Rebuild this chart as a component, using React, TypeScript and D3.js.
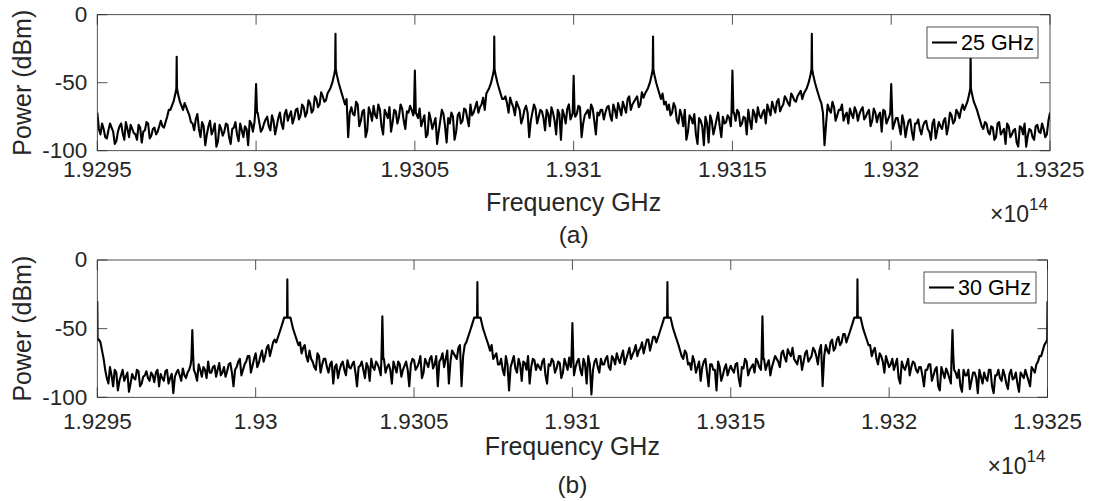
import React from "react";
import * as d3 from "d3";

// ---------- data ----------
// frequency axis (units of 1e14 Hz) and tick labels
const freqTicks = [1.9295, 1.93, 1.9305, 1.931, 1.9315, 1.932, 1.9325];
const freqTickLabels = ["1.9295", "1.93", "1.9305", "1.931", "1.9315", "1.932", "1.9325"];
const powerTicks = [0, -50, -100];
const powerTickLabels = ["0", "-50", "-100"];
const freqStart = 1.9295; // 1e14 Hz
const ghzPerUnit = 1e5; // GHz per 1e14 Hz
const noiseStepGHz = 1;

// Panel (a): 25 GHz — noise floor samples at whole GHz from 1.9295e14 Hz
const noiseA = [
  -72, -88, -84, -91, -80, -86, -93, -82, -87, -79, -90, -84, -88, -81, -94, -85, -80, -89, -83, -86,
  -78, -83, -75, -72, -66, -60, -58, -62, -68, -74, -80, -77, -84, -79, -96, -82, -88, -80, -93, -84,
  -86, -81, -95, -83, -88, -80, -90, -84, -78, -86, -75, -79, -84, -77, -82, -74, -88, -76, -80, -73,
  -78, -71, -76, -69, -74, -68, -72, -65, -70, -62, -66, -60, -63, -58, -55, -50, -48, -60, -66, -90,
  -68, -74, -66, -78, -70, -85, -72, -67, -76, -70, -88, -73, -68, -79, -71, -75, -69, -84, -72, -70,
  -70, -76, -82, -74, -88, -77, -80, -95, -78, -73, -94, -80, -75, -86, -72, -78, -70, -82, -74, -68,
  -72, -66, -70, -63, -60, -58, -55, -50, -62, -65, -61, -68, -64, -70, -76, -67, -90, -72, -69, -75,
  -71, -85, -73, -68, -78, -70, -92, -74, -69, -77, -70, -73, -68, -80, -72, -76, -69, -88, -74, -70,
  -72, -67, -78, -70, -65, -74, -68, -62, -70, -64, -60, -66, -61, -58, -56, -50, -52, -60, -58, -64,
  -66, -72, -68, -80, -74, -70, -86, -76, -73, -95, -78, -96, -80, -74, -88, -77, -82, -75, -79, -76,
  -74, -78, -72, -80, -76, -70, -84, -73, -68, -76, -70, -66, -74, -68, -64, -71, -66, -62, -67, -60,
  -64, -58, -62, -55, -50, -48, -56, -60, -65, -96, -66, -72, -68, -74, -70, -78, -72, -69, -76, -71,
  -73, -68, -75, -70, -78, -72, -74, -86, -71, -77, -73, -80, -76, -88, -79, -83, -77, -92, -80, -84,
  -82, -78, -86, -80, -91, -79, -84, -76, -82, -74, -78, -72, -70, -66, -62, -60, -64, -70, -78, -84,
  -80, -88, -83, -90, -79, -86, -95, -82, -88, -84, -97, -83, -80, -89, -85, -92, -81, -87, -84, -88,
  -72,
];
// noise floor samples at half GHz (0.5, 1.5, ...)
const noiseHalfA = [
  -84, -80, -90, -85, -83, -95, -86, -80, -92, -84, -81, -87, -92, -83, -86, -79, -91, -84, -88, -82,
  -82, -79, -70, -68, -63, -58, -60, -65, -71, -79, -85, -73, -90, -82, -88, -78, -85, -97, -81, -89,
  -80, -90, -84, -79, -93, -85, -82, -96, -80, -79, -72, -86, -80, -75, -85, -78, -82, -72, -84, -70,
  -74, -80, -70, -77, -66, -75, -63, -72, -60, -68, -57, -64, -55, -52, -47, -45, -52, -70, -62, -72,
  -73, -64, -82, -71, -90, -68, -78, -74, -66, -82, -70, -76, -86, -70, -80, -66, -78, -71, -67, -74,
  -73, -69, -78, -90, -72, -84, -76, -86, -70, -82, -76, -72, -92, -74, -80, -69, -76, -66, -72, -64,
  -68, -61, -66, -57, -62, -52, -58, -66, -60, -72, -65, -74, -67, -80, -70, -72, -78, -66, -80, -70,
  -76, -70, -82, -72, -88, -73, -70, -80, -66, -74, -75, -67, -90, -74, -70, -66, -78, -72, -70, -77,
  -68, -74, -66, -76, -69, -64, -72, -60, -66, -62, -68, -57, -64, -54, -60, -53, -55, -64, -66, -70,
  -74, -65, -78, -70, -82, -92, -74, -80, -88, -76, -82, -75, -94, -78, -83, -72, -90, -80, -74, -82,
  -72, -70, -82, -75, -88, -78, -70, -79, -74, -72, -80, -70, -64, -72, -62, -68, -60, -65, -58, -63,
  -60, -56, -52, -60, -47, -52, -58, -66, -72, -80, -70, -64, -78, -70, -66, -74, -80, -73, -68, -78,
  -70, -77, -72, -82, -69, -79, -72, -70, -80, -74, -84, -76, -82, -74, -90, -78, -86, -80, -77, -88,
  -79, -84, -92, -77, -85, -82, -78, -88, -72, -80, -70, -76, -66, -64, -58, -57, -66, -74, -82, -79,
  -86, -82, -92, -80, -88, -84, -80, -90, -85, -94, -82, -88, -97, -84, -90, -82, -86, -80, -90, -78,
];
// carriers (GHz offset from start), peak power (dBm), profile kind
const peakFreqA = [25, 75, 125, 175, 225, 275];
const peakLevelA = [-31, -14, -16, -16, -14, -28];
const peakKindA = ["small", "main", "main", "main", "main", "small"];
const spikeFreqA = [50, 100, 150, 200, 250];
const spikeLevelA = [-51, -41, -45, -41, -51];
const edgeFreqA: number[] = [];
const edgeLevelA: number[] = [];

// Panel (b): 30 GHz
const noiseB = [
  -30, -60, -72, -86, -78, -92, -82, -88, -80, -85, -96, -83, -87, -81, -90, -84, -86, -82, -89, -80,
  -83, -88, -80, -86, -97, -82, -84, -79, -86, -80, -78, -83, -76, -85, -80, -74, -82, -77, -80, -84,
  -78, -81, -75, -92, -78, -72, -80, -74, -70, -77, -68, -75, -66, -70, -62, -65, -58, -54, -50, -46,
  -44, -48, -52, -56, -60, -64, -70, -66, -74, -80, -70, -76, -72, -82, -74, -78, -86, -76, -80, -73,
  -79, -74, -92, -77, -80, -75, -88, -78, -74, -79, -75, -82, -76, -90, -78, -74, -85, -77, -80, -76,
  -73, -78, -70, -82, -75, -72, -79, -70, -74, -68, -72, -90, -66, -70, -64, -92, -62, -58, -54, -48,
  -44, -50, -55, -60, -66, -72, -68, -76, -80, -70, -95, -74, -79, -72, -88, -75, -70, -78, -73, -76,
  -80, -72, -90, -77, -74, -79, -75, -82, -76, -71, -75, -78, -72, -84, -76, -70, -98, -74, -78, -72,
  -76, -70, -80, -72, -68, -75, -66, -72, -64, -69, -62, -66, -60, -63, -58, -61, -56, -52, -50, -46,
  -44, -50, -56, -60, -66, -72, -68, -75, -70, -82, -74, -78, -72, -92, -76, -80, -74, -88, -79, -84,
  -77, -82, -75, -92, -79, -74, -80, -76, -72, -78, -75, -80, -73, -78, -70, -74, -68, -71, -65, -70,
  -72, -76, -70, -74, -66, -72, -64, -70, -66, -92, -62, -68, -58, -64, -56, -60, -54, -58, -50, -46,
  -44, -48, -54, -58, -62, -66, -72, -68, -74, -70, -78, -72, -76, -86, -74, -80, -72, -78, -75, -82,
  -78, -92, -80, -76, -84, -78, -95, -82, -79, -86, -78, -82, -80, -96, -84, -80, -88, -82, -97, -85,
  -82, -88, -80, -97, -84, -86, -80, -90, -83, -87, -82, -96, -84, -80, -88, -78, -82, -74, -70, -62,
  -30,
];
const noiseHalfB = [
  -58, -66, -80, -90, -84, -80, -95, -84, -88, -82, -90, -86, -80, -92, -85, -81, -88, -84, -82, -92,
  -86, -81, -90, -83, -85, -80, -88, -84, -82, -76, -80, -88, -80, -78, -86, -82, -78, -85, -75, -82,
  -85, -76, -82, -80, -74, -84, -76, -70, -82, -72, -78, -70, -74, -64, -70, -60, -62, -52, -56, -48,
  -46, -50, -56, -58, -68, -62, -74, -72, -78, -68, -82, -72, -78, -76, -90, -76, -80, -74, -84, -78,
  -76, -82, -78, -74, -86, -78, -72, -80, -76, -84, -72, -78, -80, -74, -82, -76, -80, -74, -92, -72,
  -80, -75, -86, -72, -78, -70, -76, -92, -72, -78, -66, -74, -68, -72, -62, -70, -60, -56, -52, -46,
  -46, -52, -58, -64, -62, -70, -76, -72, -84, -76, -78, -70, -82, -76, -74, -80, -90, -72, -80, -78,
  -74, -84, -76, -72, -82, -74, -86, -72, -80, -78, -84, -74, -80, -72, -90, -76, -80, -72, -82, -76,
  -72, -78, -70, -76, -72, -70, -76, -68, -72, -66, -70, -64, -68, -58, -66, -56, -60, -54, -48, -48,
  -46, -54, -58, -64, -70, -66, -76, -80, -74, -78, -88, -74, -82, -76, -80, -95, -78, -84, -76, -80,
  -80, -76, -86, -78, -72, -84, -78, -82, -74, -80, -72, -76, -84, -74, -72, -78, -66, -74, -68, -64,
  -74, -70, -80, -68, -74, -70, -66, -76, -62, -70, -66, -60, -66, -58, -62, -54, -60, -52, -54, -48,
  -46, -52, -56, -60, -70, -64, -76, -70, -82, -74, -76, -80, -72, -90, -78, -76, -84, -74, -80, -78,
  -84, -80, -76, -88, -80, -92, -78, -86, -82, -90, -80, -86, -92, -80, -84, -94, -82, -86, -80, -90,
  -86, -80, -92, -84, -80, -88, -84, -94, -80, -86, -90, -82, -86, -84, -92, -80, -76, -70, -66, -60,
];
const peakFreqB = [60, 120, 180, 240];
const peakLevelB = [-14, -16, -16, -14];
const peakKindB = ["pedestal", "pedestal", "pedestal", "pedestal"];
const spikeFreqB = [30, 90, 150, 210, 270];
const spikeLevelB = [-51, -41, -46, -41, -51];
const edgeFreqB = [0.1, 299.9];
const edgeLevelB = [-58, -58];

// line shapes around carriers: offset (GHz) and level (dBm); NaN = carrier peak
const profileOffsets: Record<string, number[]> = {
  main: [-2.5, -1.6, -1, -0.4, -0.1, 0, 0.1, 0.4, 1, 1.6, 2.5],
  small: [-2, -1, -0.4, -0.1, 0, 0.1, 0.4, 1, 2],
  pedestal: [-3.5, -2.5, -1.8, -1, -0.1, 0, 0.1, 1, 1.8, 2.5, 3.5],
  spike: [-0.3, 0, 0.3],
};
const profileLevels: Record<string, number[]> = {
  main: [-58, -54, -50, -44, -40, NaN, -40, -44, -50, -55, -62],
  small: [-70, -64, -58, -54, NaN, -54, -58, -64, -70],
  pedestal: [-60, -53, -48, -42, -42, NaN, -42, -42, -50, -55, -62],
  spike: [-72, NaN, -72],
};

// ---------- helpers ----------
type Pt = { f: number; p: number };

function buildSeries(
  noise: number[],
  noiseHalf: number[],
  peakF: number[],
  peakL: number[],
  peakK: string[],
  spikeF: number[],
  spikeL: number[],
  edgeF: number[],
  edgeL: number[]
): Pt[] {
  const feats: { f: number; l: number; k: string }[] = [];
  peakF.forEach((f, i) => feats.push({ f, l: peakL[i], k: peakK[i] }));
  spikeF.forEach((f, i) => feats.push({ f, l: spikeL[i], k: "spike" }));
  const raw: Pt[] = [];
  noise.forEach((p, i) => raw.push({ f: i * noiseStepGHz, p }));
  noiseHalf.forEach((p, i) => raw.push({ f: (i + 0.5) * noiseStepGHz, p }));
  const pts: Pt[] = raw.filter(
    (pt) =>
      !feats.some((ft) => {
        const offs = profileOffsets[ft.k];
        return pt.f >= ft.f + offs[0] && pt.f <= ft.f + offs[offs.length - 1];
      })
  );
  feats.forEach((ft) => {
    profileOffsets[ft.k].forEach((o, j) => {
      const lv = profileLevels[ft.k][j];
      pts.push({ f: ft.f + o, p: isNaN(lv) ? ft.l : lv });
    });
  });
  edgeF.forEach((f, i) => pts.push({ f, p: edgeL[i] }));
  pts.sort((a, b) => a.f - b.f);
  return pts;
}

const seriesA = buildSeries(noiseA, noiseHalfA, peakFreqA, peakLevelA, peakKindA, spikeFreqA, spikeLevelA, edgeFreqA, edgeLevelA);
const seriesB = buildSeries(noiseB, noiseHalfB, peakFreqB, peakLevelB, peakKindB, spikeFreqB, spikeLevelB, edgeFreqB, edgeLevelB);

const FONT = "'Liberation Sans', Arial, Helvetica, sans-serif";
const TXT = "#262626";
const AX = "#262626";

type PanelCfg = {
  id: string;
  left: number;
  right: number;
  top: number;
  bottom: number;
  tickBase: number;
  labelBase: number;
  capBase: number;
  expBase: number;
  caption: string;
  legend: string;
  legendBox: { x: number; y: number; w: number; h: number };
  series: Pt[];
};

const panels: PanelCfg[] = [
  {
    id: "a",
    left: 97.3,
    right: 1050,
    top: 14.7,
    bottom: 150.7,
    tickBase: 177,
    labelBase: 211,
    capBase: 243,
    expBase: 222,
    caption: "(a)",
    legend: "25 GHz",
    legendBox: { x: 927, y: 27, w: 111, h: 31 },
    series: seriesA,
  },
  {
    id: "b",
    left: 97.3,
    right: 1047.5,
    top: 260,
    bottom: 397.3,
    tickBase: 429,
    labelBase: 455,
    capBase: 493,
    expBase: 474,
    caption: "(b)",
    legend: "30 GHz",
    legendBox: { x: 924, y: 272, w: 112, h: 31 },
    series: seriesB,
  },
];

function Panel({ cfg }: { cfg: PanelCfg }) {
  const x = d3.scaleLinear().domain([freqTicks[0], freqTicks[freqTicks.length - 1]]).range([cfg.left, cfg.right]);
  const y = d3.scaleLinear().domain([-100, 0]).range([cfg.bottom, cfg.top]);
  const line = d3
    .line<Pt>()
    .x((d) => x(freqStart + d.f / ghzPerUnit))
    .y((d) => y(d.p));
  const tl = 10;
  const cx = (cfg.left + cfg.right) / 2;
  const cy = (cfg.top + cfg.bottom) / 2;
  const lb = cfg.legendBox;
  return (
    <g>
      <defs>
        <clipPath id={"clip" + cfg.id}>
          <rect x={cfg.left} y={cfg.top} width={cfg.right - cfg.left} height={cfg.bottom - cfg.top} />
        </clipPath>
      </defs>
      <path
        d={line(cfg.series) || ""}
        fill="none"
        stroke="#000"
        strokeWidth={2.1}
        strokeLinejoin="round"
        clipPath={`url(#clip${cfg.id})`}
      />
      {/* box */}
      <rect
        x={cfg.left}
        y={cfg.top}
        width={cfg.right - cfg.left}
        height={cfg.bottom - cfg.top}
        fill="none"
        stroke={AX}
        strokeWidth={0.8}
      />
      {freqTicks.map((t, i) => (
        <g key={"xt" + i}>
          <line x1={x(t)} x2={x(t)} y1={cfg.bottom} y2={cfg.bottom - tl} stroke={AX} strokeWidth={0.8} />
          <line x1={x(t)} x2={x(t)} y1={cfg.top} y2={cfg.top + tl} stroke={AX} strokeWidth={0.8} />
          <text x={x(t)} y={cfg.tickBase} textAnchor="middle" fontSize={22.5} fill={TXT} fontFamily={FONT}>
            {freqTickLabels[i]}
          </text>
        </g>
      ))}
      {powerTicks.map((t, i) => (
        <g key={"yt" + i}>
          <line x1={cfg.left} x2={cfg.left + tl} y1={y(t)} y2={y(t)} stroke={AX} strokeWidth={0.8} />
          <line x1={cfg.right} x2={cfg.right - tl} y1={y(t)} y2={y(t)} stroke={AX} strokeWidth={0.8} />
          <text
            x={cfg.left - 10}
            y={y(t)}
            dy="0.33em"
            textAnchor="end"
            fontSize={22.5}
            fill={TXT}
            fontFamily={FONT}
          >
            {powerTickLabels[i]}
          </text>
        </g>
      ))}
      <text x={cx} y={cfg.labelBase} textAnchor="middle" fontSize={25} fill={TXT} fontFamily={FONT}>
        Frequency GHz
      </text>
      <text
        transform={`translate(31,${cy}) rotate(-90)`}
        textAnchor="middle"
        fontSize={25}
        fill={TXT}
        fontFamily={FONT}
      >
        Power (dBm)
      </text>
      <text x={cfg.right - 2} y={cfg.expBase} textAnchor="end" fontSize={23} fill={TXT} fontFamily={FONT}>
        ×10
        <tspan dy={-12} fontSize={17}>
          14
        </tspan>
      </text>
      <text x={cx} y={cfg.capBase} textAnchor="middle" fontSize={24.5} fill={TXT} fontFamily={FONT}>
        {cfg.caption}
      </text>
      {/* legend */}
      <rect x={lb.x} y={lb.y} width={lb.w} height={lb.h} fill="#fff" stroke={AX} strokeWidth={0.8} />
      <line x1={lb.x + 5} x2={lb.x + 30} y1={lb.y + lb.h / 2} y2={lb.y + lb.h / 2} stroke="#000" strokeWidth={2.1} />
      <text
        x={lb.x + 34}
        y={lb.y + lb.h / 2}
        dy="0.35em"
        fontSize={21.5}
        fill="#000"
        fontFamily={FONT}
      >
        {cfg.legend}
      </text>
    </g>
  );
}

export default function App() {
  return (
    <svg
      width={1101}
      height={501}
      viewBox="0 0 1101 501"
      style={{ position: "absolute", left: 0, top: 0, background: "#fff" }}
    >
      <rect x={0} y={0} width={1101} height={501} fill="#fff" />
      {panels.map((p) => (
        <Panel key={p.id} cfg={p} />
      ))}
    </svg>
  );
}
